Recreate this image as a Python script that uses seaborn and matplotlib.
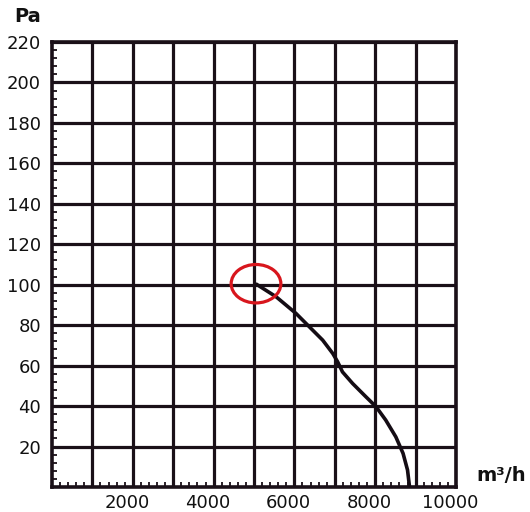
import matplotlib
matplotlib.use("Agg")
import matplotlib.pyplot as plt
import matplotlib.transforms as mtransforms
from matplotlib.patches import Ellipse
from matplotlib.ticker import MultipleLocator
import seaborn as sns
import pandas as pd

# data
airflow = [5040, 5550, 6040, 6370, 6700, 6950, 7070, 7190, 7440, 7770,
           8020, 8260, 8510, 8690, 8800, 8850]
pressure = [100.5, 94, 85.8, 79.2, 72.6, 66, 61.9, 56.9, 51.2, 44.6,
            39.7, 33.1, 24.8, 16.6, 8.4, 0]
x_ticks = [2000, 4000, 6000, 8000, 10000]
y_ticks = [20, 40, 60, 80, 100, 120, 140, 160, 180, 200, 220]
marker_point = (5050, 100.5)

df = pd.DataFrame({"airflow": airflow, "pressure": pressure})

sns.set_theme(style="white")
plt.rcParams["font.family"] = ["DejaVu Sans"]

fig = plt.figure(figsize=(5.30, 5.12), dpi=100)
ax = fig.add_axes([52 / 530, 1 - 487 / 512, (456 - 52) / 530, (487 - 42) / 512])

ax.set_xlim(0, 10000)
ax.set_ylim(0, 220)

# grid
ax.xaxis.set_major_locator(MultipleLocator(1000))
ax.yaxis.set_major_locator(MultipleLocator(20))
ax.xaxis.set_minor_locator(MultipleLocator(200))
ax.yaxis.set_minor_locator(MultipleLocator(4))
ax.grid(True, which="major", color="#1a1018", linewidth=2.3)
ax.set_axisbelow(True)

sns.lineplot(data=df, x="airflow", y="pressure", ax=ax, sort=False,
             color="#140c14", linewidth=2.6, zorder=5)
for ln in ax.lines:
    ln.set_solid_joinstyle("round")
    ln.set_solid_capstyle("butt")

ell = Ellipse(marker_point, width=1230, height=19, fill=False,
              edgecolor="#d8161d", linewidth=2.3, zorder=6)
ax.add_patch(ell)

for s in ax.spines.values():
    s.set_color("#1a1018")
    s.set_linewidth(2.6)
    s.set_visible(True)

# tick labels
xt = list(range(1000, 10001, 1000))
ax.set_xticks(xt)
ax.set_xticklabels([str(v) if v in x_ticks else "" for v in xt])
yt = list(range(20, 221, 20))
ax.set_yticks(yt)
ax.set_yticklabels([str(v) if v in y_ticks else "" for v in yt])

ax.tick_params(axis="both", which="major", length=0, labelsize=13,
               labelcolor="#111111")
ax.tick_params(axis="x", which="major", pad=5)
ax.tick_params(axis="y", which="major", pad=8)
ax.tick_params(axis="x", which="minor", direction="in", length=3.5,
               width=1.3, color="#1a1018", bottom=True, top=False)
ax.tick_params(axis="y", which="minor", direction="in", length=3.5,
               width=1.3, color="#1a1018", left=True, right=False)

offset = mtransforms.ScaledTranslation(-6 / 100, 0, fig.dpi_scale_trans)
for lab in ax.get_xticklabels():
    lab.set_transform(lab.get_transform() + offset)

ax.set_xlabel("")
ax.set_ylabel("")

fig.text(14 / 530, 1 - 22 / 512, "Pa", fontsize=14, fontweight="bold",
         color="#111111", ha="left", va="baseline")
fig.text(476 / 530, 1 - 481 / 512, "m³/h", fontsize=14, fontweight="bold",
         color="#111111", ha="left", va="baseline")

fig.savefig("out.png", dpi=100)
